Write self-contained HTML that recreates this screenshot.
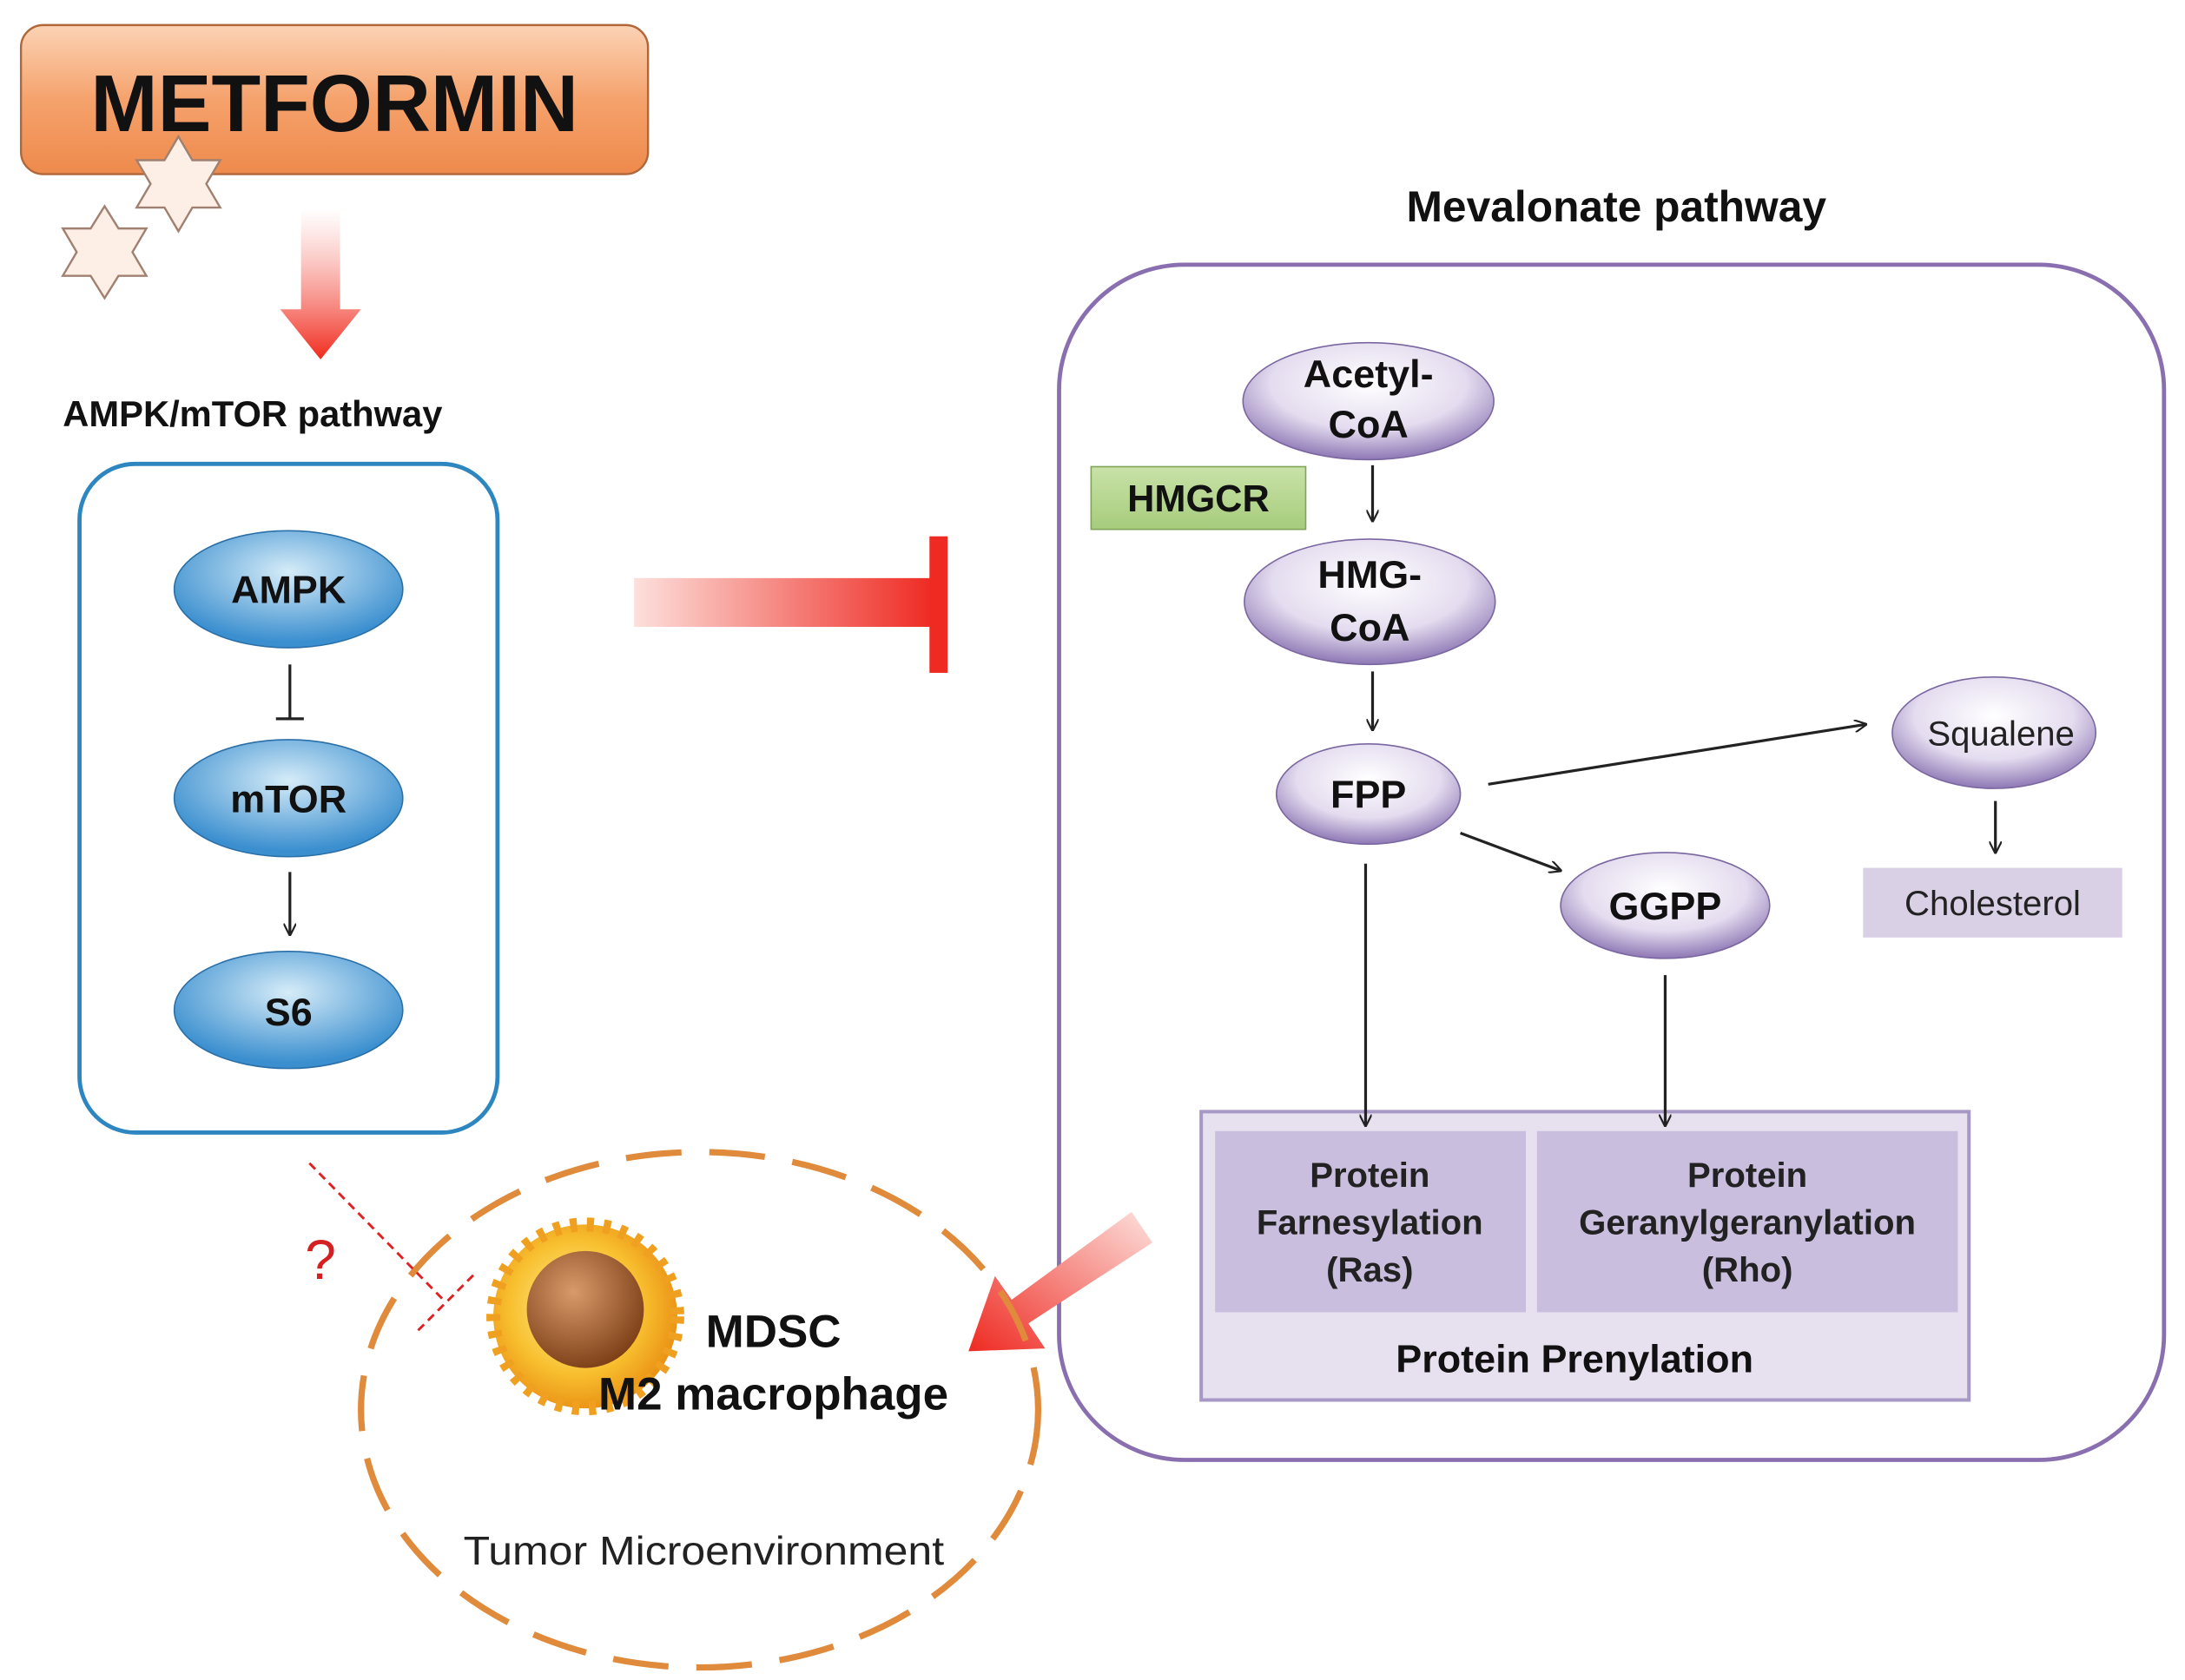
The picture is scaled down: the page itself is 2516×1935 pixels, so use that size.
<!DOCTYPE html>
<html><head><meta charset="utf-8"><style>
html,body{margin:0;padding:0;background:#fff}
svg{display:block}
text{font-family:"Liberation Sans",sans-serif}
</style></head><body>
<svg width="2516" height="1935" viewBox="0 0 1568 1206" xmlns="http://www.w3.org/2000/svg">
<defs>
<linearGradient id="og" x1="0" y1="0" x2="0" y2="1"><stop offset="0" stop-color="#fbd3b5"/><stop offset="0.5" stop-color="#f5a26c"/><stop offset="1" stop-color="#ee8a4c"/></linearGradient>
<linearGradient id="rd" x1="0" y1="0" x2="0" y2="1"><stop offset="0" stop-color="#fff" stop-opacity="0.6"/><stop offset="1" stop-color="#f02a1c"/></linearGradient>
<linearGradient id="rh" x1="0" y1="0" x2="1" y2="0"><stop offset="0" stop-color="#fde0dc"/><stop offset="1" stop-color="#ee2a22"/></linearGradient>
<linearGradient id="rdiag" x1="1" y1="0" x2="0" y2="1"><stop offset="0" stop-color="#fde0dc"/><stop offset="1" stop-color="#ee2a22"/></linearGradient>
<radialGradient id="bl" cx="0.5" cy="0.35" r="0.6"><stop offset="0" stop-color="#d6ecf8"/><stop offset="1" stop-color="#3b8fcf"/></radialGradient>
<radialGradient id="pu" cx="0.5" cy="0.35" r="0.65"><stop offset="0" stop-color="#ffffff"/><stop offset="0.6" stop-color="#e4dcef"/><stop offset="1" stop-color="#8e78b5"/></radialGradient>
<linearGradient id="gr" x1="0" y1="0" x2="0" y2="1"><stop offset="0" stop-color="#c9e2a8"/><stop offset="1" stop-color="#a6cc7c"/></linearGradient>
<radialGradient id="cell" cx="0.45" cy="0.45" r="0.6"><stop offset="0" stop-color="#fff3a0"/><stop offset="0.6" stop-color="#f8c030"/><stop offset="1" stop-color="#e88a10"/></radialGradient>
<radialGradient id="nuc" cx="0.4" cy="0.35" r="0.7"><stop offset="0" stop-color="#d99a6a"/><stop offset="1" stop-color="#7a3c14"/></radialGradient>
<marker id="ar" viewBox="0 0 10 10" refX="9" refY="5" markerWidth="9" markerHeight="9" orient="auto" markerUnits="userSpaceOnUse"><path d="M0,0 L10,5 L0,10" fill="none" stroke="#222" stroke-width="1.5"/></marker>
</defs>

<rect x="15" y="18" width="450" height="107" rx="16" fill="url(#og)" stroke="#b0683a" stroke-width="1.5"/>
<text x="240" y="94" font-size="58" font-weight="bold" text-anchor="middle" fill="#111" textLength="350" lengthAdjust="spacingAndGlyphs">METFORMIN</text>
<g fill="#fdeee6" stroke="#a08070" stroke-width="1.5">
<polygon points="128,98 138,115 158,115 148,132 158,149 138,149 128,166 118,149 98,149 108,132 98,115 118,115"/>
<polygon points="75,148 85,164 105,164 95,181 105,198 85,198 75,214 65,198 45,198 55,181 45,164 65,164"/>
</g>
<polygon points="216,150 244,150 244,222 259,222 230,258 201,222 216,222" fill="url(#rd)"/>
<text x="45" y="306" font-size="26" font-weight="bold" fill="#111">AMPK/mTOR pathway</text>
<rect x="57" y="333" width="300" height="480" rx="40" fill="#fff" stroke="#2e86c1" stroke-width="3"/>
<ellipse cx="207" cy="423" rx="82" ry="42" fill="url(#bl)" stroke="#2a6fa8"/>
<ellipse cx="207" cy="573" rx="82" ry="42" fill="url(#bl)" stroke="#2a6fa8"/>
<ellipse cx="207" cy="725" rx="82" ry="42" fill="url(#bl)" stroke="#2a6fa8"/>
<text x="207" y="433" font-size="28" font-weight="bold" text-anchor="middle" fill="#111">AMPK</text>
<text x="207" y="583" font-size="28" font-weight="bold" text-anchor="middle" fill="#111">mTOR</text>
<text x="207" y="736" font-size="28" font-weight="bold" text-anchor="middle" fill="#111">S6</text>
<line x1="208" y1="477" x2="208" y2="516" stroke="#222" stroke-width="2"/>
<line x1="198" y1="516" x2="218" y2="516" stroke="#222" stroke-width="2"/>
<line x1="208" y1="626" x2="208" y2="671" stroke="#222" stroke-width="2" marker-end="url(#ar)"/>

<rect x="455" y="415" width="215" height="35" fill="url(#rh)"/>
<rect x="667" y="385" width="13" height="98" fill="#ee2a22"/>

<text x="1160" y="159" font-size="31" font-weight="bold" text-anchor="middle" fill="#111">Mevalonate pathway</text>
<rect x="760" y="190" width="793" height="858" rx="90" fill="#fff" stroke="#8a6fb0" stroke-width="3"/>
<ellipse cx="982" cy="288" rx="90" ry="42" fill="url(#pu)" stroke="#7a66a0"/>
<text x="982" y="278" font-size="28" font-weight="bold" text-anchor="middle" fill="#111">Acetyl-</text>
<text x="982" y="314" font-size="28" font-weight="bold" text-anchor="middle" fill="#111">CoA</text>
<rect x="783" y="335" width="154" height="45" fill="url(#gr)" stroke="#7fa45a"/>
<text x="860" y="367" font-size="27" font-weight="bold" text-anchor="middle" fill="#111">HMGCR</text>
<line x1="985" y1="334" x2="985" y2="374" stroke="#222" stroke-width="2" marker-end="url(#ar)"/>
<ellipse cx="983" cy="432" rx="90" ry="45" fill="url(#pu)" stroke="#7a66a0"/>
<text x="983" y="422" font-size="28" font-weight="bold" text-anchor="middle" fill="#111">HMG-</text>
<text x="983" y="460" font-size="28" font-weight="bold" text-anchor="middle" fill="#111">CoA</text>
<line x1="985" y1="482" x2="985" y2="524" stroke="#222" stroke-width="2" marker-end="url(#ar)"/>
<ellipse cx="982" cy="570" rx="66" ry="36" fill="url(#pu)" stroke="#7a66a0"/>
<text x="982" y="580" font-size="28" font-weight="bold" text-anchor="middle" fill="#111">FPP</text>
<ellipse cx="1431" cy="526" rx="73" ry="40" fill="url(#pu)" stroke="#7a66a0"/>
<text x="1436" y="535" font-size="25" text-anchor="middle" fill="#222">Squalene</text>
<line x1="1068" y1="563" x2="1339" y2="520" stroke="#222" stroke-width="2" marker-end="url(#ar)"/>
<line x1="1048" y1="598" x2="1120" y2="625" stroke="#222" stroke-width="2" marker-end="url(#ar)"/>
<ellipse cx="1195" cy="650" rx="75" ry="38" fill="url(#pu)" stroke="#7a66a0"/>
<text x="1195" y="660" font-size="28" font-weight="bold" text-anchor="middle" fill="#111">GGPP</text>
<line x1="1432" y1="575" x2="1432" y2="612" stroke="#222" stroke-width="2" marker-end="url(#ar)"/>
<rect x="1337" y="623" width="186" height="50" fill="#d9d0e6"/>
<text x="1430" y="657" font-size="25" text-anchor="middle" fill="#222">Cholesterol</text>
<rect x="862" y="798" width="551" height="207" fill="#e6e0ef" stroke="#a898c6" stroke-width="2.5"/>
<rect x="872" y="812" width="223" height="130" fill="#c9bedd"/>
<rect x="1103" y="812" width="302" height="130" fill="#c9bedd"/>
<line x1="980" y1="620" x2="980" y2="808" stroke="#222" stroke-width="2" marker-end="url(#ar)"/>
<line x1="1195" y1="700" x2="1195" y2="808" stroke="#222" stroke-width="2" marker-end="url(#ar)"/>
<g font-size="25" font-weight="bold" text-anchor="middle" fill="#222">
<text x="983" y="852">Protein</text><text x="983" y="886">Farnesylation</text><text x="983" y="920">(Ras)</text>
<text x="1254" y="852">Protein</text><text x="1254" y="886">Geranylgeranylation</text><text x="1254" y="920">(Rho)</text>
</g>
<text x="1130" y="985" font-size="28" font-weight="bold" text-anchor="middle" fill="#111">Protein Prenylation</text>

<polygon points="812,870 827,892 738,950 750,968 695,970 714,916 726,933" fill="url(#rdiag)"/>

<ellipse cx="502" cy="1012" rx="243" ry="185" fill="none" stroke="#e08a3c" stroke-width="4.5" stroke-dasharray="40 20"/>
<circle cx="420" cy="945" r="66" fill="url(#cell)" stroke="#f0a020" stroke-width="10" stroke-dasharray="5 7"/>
<circle cx="420" cy="940" r="42" fill="url(#nuc)"/>
<text x="555" y="967" font-size="33" font-weight="bold" text-anchor="middle" fill="#111">MDSC</text>
<text x="555" y="1012" font-size="33" font-weight="bold" text-anchor="middle" fill="#111">M2 macrophage</text>
<text x="505" y="1123" font-size="29" text-anchor="middle" fill="#222" textLength="345" lengthAdjust="spacingAndGlyphs">Tumor Microenvironment</text>
<line x1="222" y1="835" x2="320" y2="935" stroke="#e02020" stroke-width="1.8" stroke-dasharray="6 4"/>
<line x1="300" y1="955" x2="340" y2="915" stroke="#e02020" stroke-width="1.8" stroke-dasharray="6 4"/>
<text x="230" y="918" font-size="40" text-anchor="middle" fill="#d42020">?</text>
</svg>
</body></html>
